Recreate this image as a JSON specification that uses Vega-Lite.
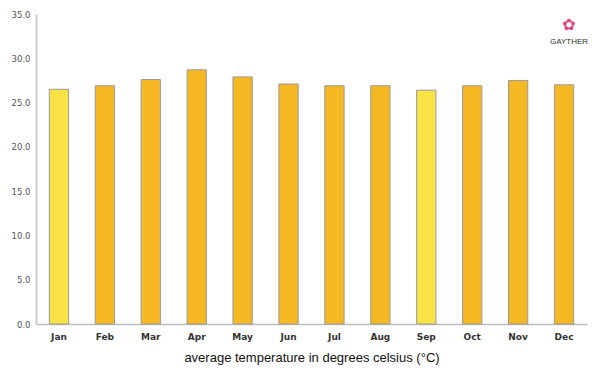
{
  "$schema": "https://vega.github.io/schema/vega-lite/v6.json",
  "width": 600,
  "height": 375,
  "autosize": {"type": "fit", "contains": "padding"},
  "padding": {"left": 11, "top": 10, "right": 13, "bottom": 11},
  "background": "white",
  "config": {"view": {"stroke": null}},
  "data": {"values": [
    {"month": "Jan", "temp": 26.5, "kind": "low"},
    {"month": "Feb", "temp": 26.9, "kind": "high"},
    {"month": "Mar", "temp": 27.6, "kind": "high"},
    {"month": "Apr", "temp": 28.7, "kind": "high"},
    {"month": "May", "temp": 27.9, "kind": "high"},
    {"month": "Jun", "temp": 27.1, "kind": "high"},
    {"month": "Jul", "temp": 26.9, "kind": "high"},
    {"month": "Aug", "temp": 26.9, "kind": "high"},
    {"month": "Sep", "temp": 26.4, "kind": "low"},
    {"month": "Oct", "temp": 26.9, "kind": "high"},
    {"month": "Nov", "temp": 27.5, "kind": "high"},
    {"month": "Dec", "temp": 27.0, "kind": "high"}
  ]},
  "layer": [
    {
      "mark": {"type": "bar", "stroke": "#9a9a9a", "strokeWidth": 1},
      "encoding": {
        "x": {
          "field": "month", "type": "nominal", "sort": null,
          "scale": {"paddingInner": 0.58, "paddingOuter": 0.29},
          "axis": {
            "title": "average temperature in degrees celsius (°C)",
            "titleFont": "Liberation Sans", "titleFontSize": 13, "titleFontWeight": "normal",
            "titleColor": "#111", "titlePadding": 10,
            "labelAngle": 0, "labelFont": "DejaVu Sans", "labelFontSize": 9,
            "labelFontWeight": "bold", "labelColor": "#333", "labelPadding": 8,
            "ticks": false, "domainColor": "#bbbbbb", "domainWidth": 1.5
          }
        },
        "y": {
          "field": "temp", "type": "quantitative",
          "scale": {"domain": [0, 35], "nice": false},
          "axis": {
            "title": null, "values": [0, 5, 10, 15, 20, 25, 30, 35], "format": ".1f",
            "labelFont": "DejaVu Sans", "labelFontSize": 8.5, "labelColor": "#555",
            "ticks": false, "labelPadding": 6, "grid": false,
            "domainColor": "#cccccc", "domainWidth": 2
          }
        },
        "color": {
          "field": "kind", "type": "nominal", "legend": null,
          "scale": {"domain": ["low", "high"], "range": ["#F9E244", "#F5B822"]}
        }
      }
    },
    {
      "data": {"values": [{"month": "Dec", "y": 31.8, "label": "GAYTHER"}]},
      "mark": {"type": "text", "font": "Liberation Sans", "fontSize": 8, "color": "#333", "dx": 5},
      "encoding": {
        "x": {"field": "month", "type": "nominal", "sort": null},
        "y": {"field": "y", "type": "quantitative"},
        "text": {"field": "label"}
      }
    },
    {
      "data": {"values": [{"month": "Dec", "y": 33.8, "label": "✿"}]},
      "mark": {"type": "text", "font": "DejaVu Sans", "fontSize": 16, "color": "#e0457b", "dx": 5},
      "encoding": {
        "x": {"field": "month", "type": "nominal", "sort": null},
        "y": {"field": "y", "type": "quantitative"},
        "text": {"field": "label"}
      }
    }
  ]
}
